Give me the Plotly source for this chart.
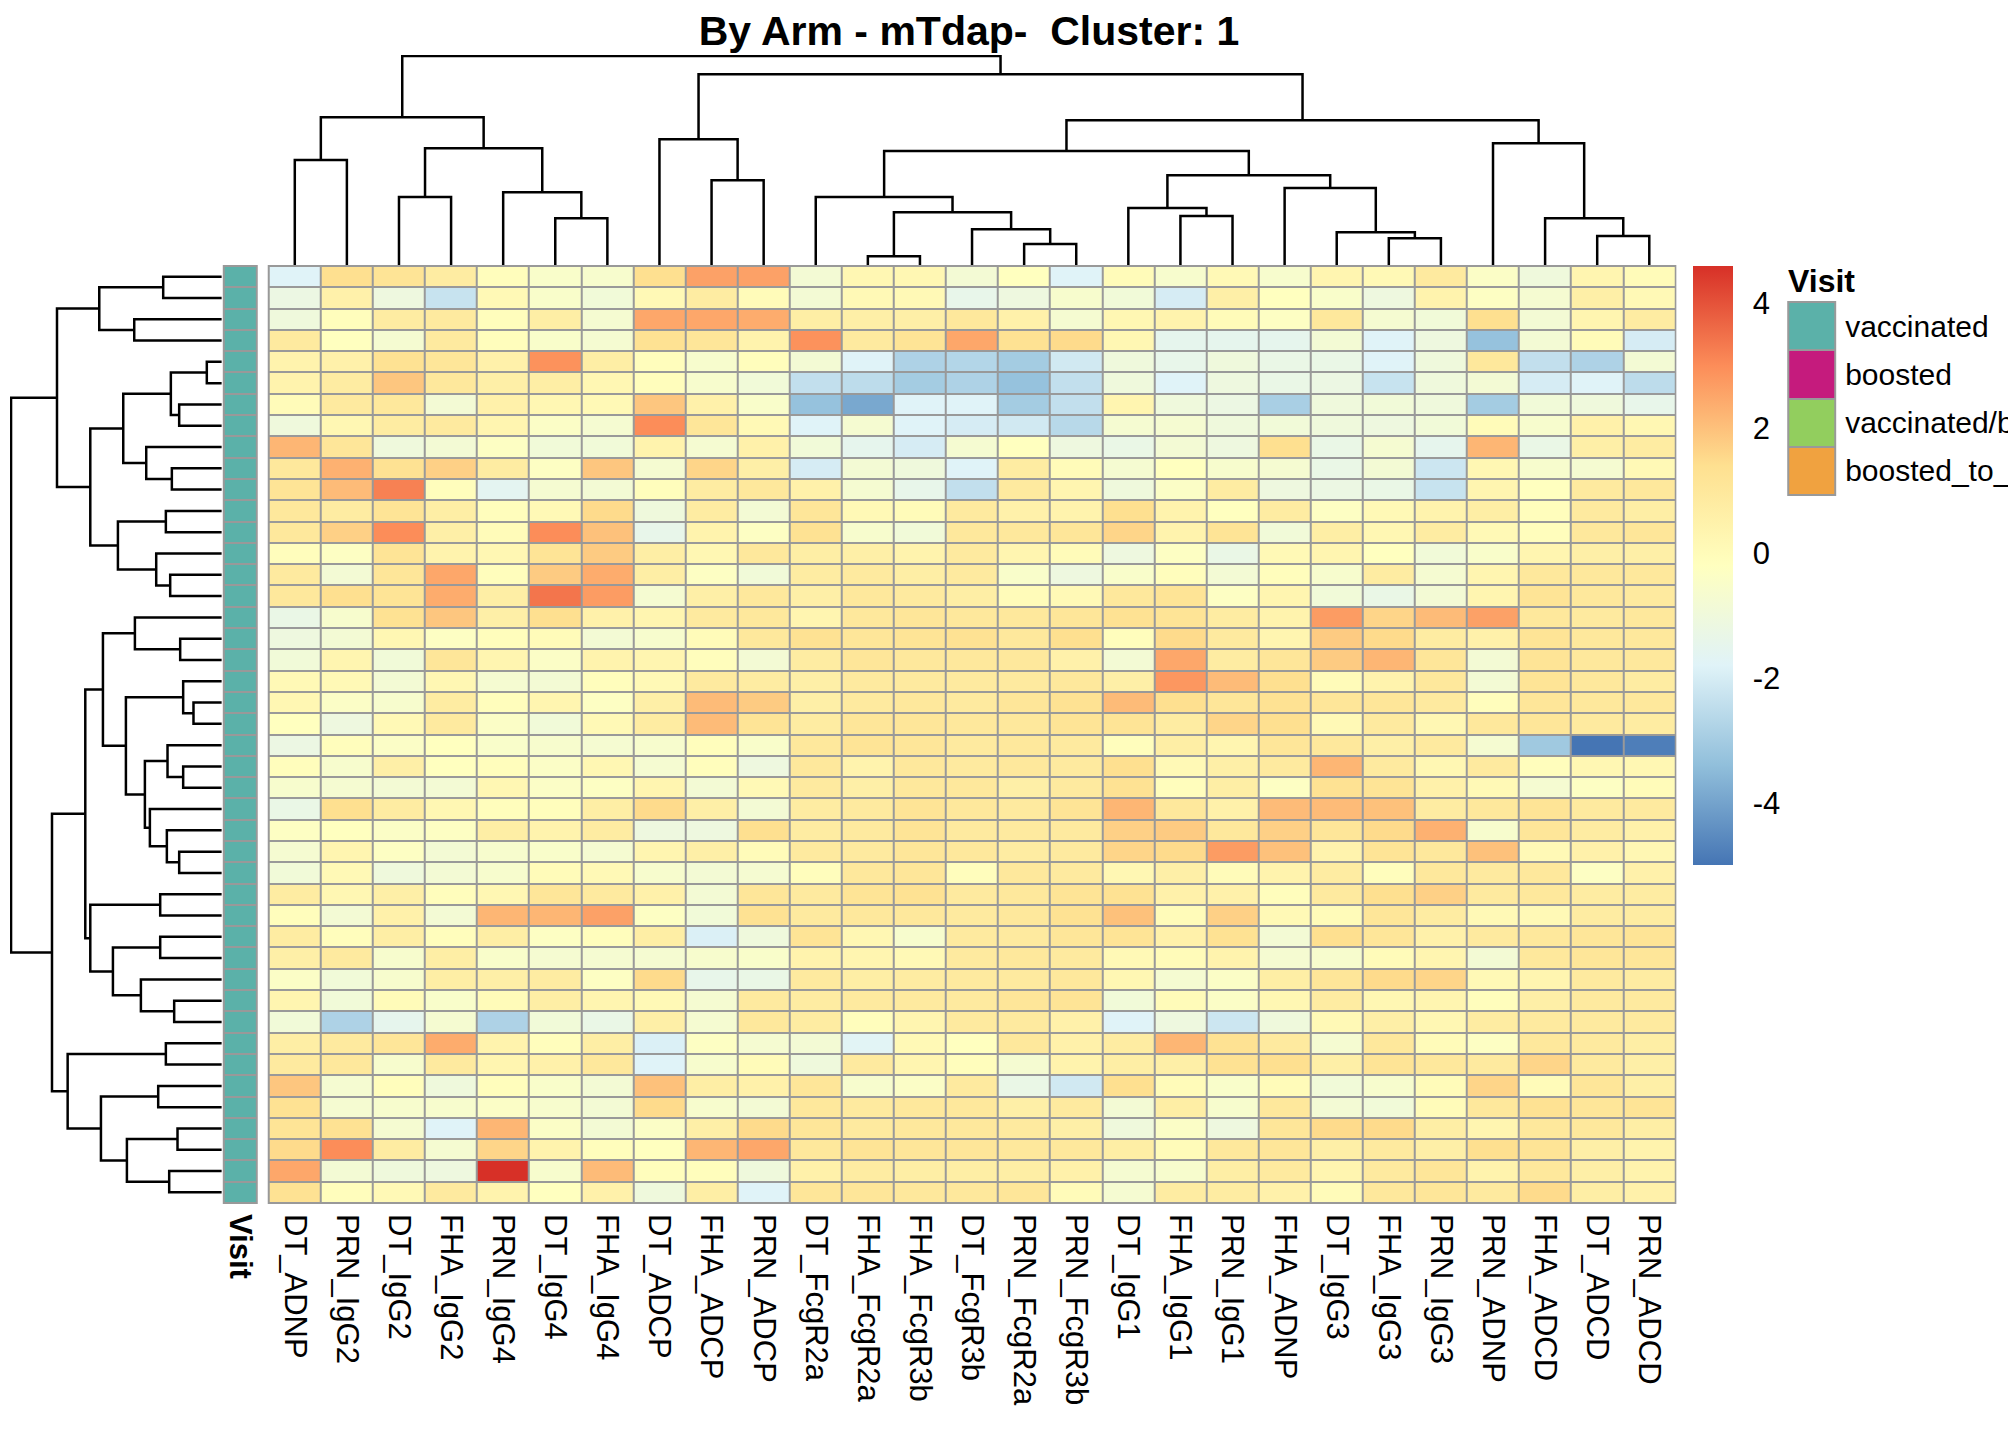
import plotly.graph_objects as go

W, H = 2016, 1440
OFF = 8  # the page body adds an 8px margin around the figure
FONT = "Liberation Sans, Arial, sans-serif"

# column order as shown under the heatmap
features = ["DT_ADNP", "PRN_IgG2", "DT_IgG2", "FHA_IgG2", "PRN_IgG4", "DT_IgG4", "FHA_IgG4",
            "DT_ADCP", "FHA_ADCP", "PRN_ADCP", "DT_FcgR2a", "FHA_FcgR2a", "FHA_FcgR3b",
            "DT_FcgR3b", "PRN_FcgR2a", "PRN_FcgR3b", "DT_IgG1", "FHA_IgG1", "PRN_IgG1",
            "FHA_ADNP", "DT_IgG3", "FHA_IgG3", "PRN_IgG3", "PRN_ADNP", "FHA_ADCD",
            "DT_ADCD", "PRN_ADCD"]

# visit annotation per row (all rows are vaccinated)
visit = ["vaccinated"] * 44
# legend labels as far as they are visible before the right edge
visit_levels = ["vaccinated", "boosted", "vaccinated/b", "boosted_to_"]
visit_colors = ["#5BB1A9", "#C51B7D", "#92CE5E", "#F0A240"]

# scaled values, one list per row (top to bottom)
values = [
    [-1.8, 1.4, 1.2, 0.8, -0.1, -0.5, -0.6, 1.4, 2.6, 2.6, -0.8, 0.2, 0.2, -0.8, -0.2, -1.8, 0.0, -0.6, 0.1, -0.6, 0.3, 0.1, 0.9, -0.4, -1.0, 0.3, 0.0],
    [-1.2, 0.5, -1.1, -2.3, 0.1, -0.5, -0.9, 0.1, 0.8, 0.0, -0.8, 0.1, 0.1, -1.4, -1.1, -0.6, -0.9, -2.0, 0.6, -0.2, -0.5, -1.1, 0.4, -0.3, -0.7, 0.6, 0.1],
    [-1.0, -0.1, 0.8, 0.9, -0.1, 0.7, -0.7, 2.5, 2.5, 2.4, 0.7, 0.6, 0.6, 1.0, 0.5, -0.7, 0.2, 0.4, 0.0, -0.3, 1.0, -0.7, -0.9, 1.4, -0.8, 0.3, 0.8],
    [0.9, -0.2, -0.7, 0.9, -0.1, -0.5, -0.7, 1.3, 1.1, 0.4, 2.9, 0.9, 1.2, 2.5, 1.3, 1.5, 0.2, -1.5, -1.5, -1.5, -0.8, -1.8, -1.1, -3.3, -0.8, 0.0, -2.0],
    [0.4, 0.5, 1.3, 1.1, 0.5, 2.9, 0.7, -0.1, -0.6, -0.1, -0.8, -1.8, -2.8, -2.7, -3.0, -2.1, -1.0, -1.4, -1.0, -1.3, -1.3, -1.8, -1.0, 1.0, -2.4, -2.8, -0.8],
    [0.4, 0.8, 1.9, 1.0, 0.6, 0.7, 0.2, -0.1, -0.6, -0.9, -2.4, -2.5, -3.0, -2.8, -3.3, -2.4, -1.0, -1.8, -1.1, -1.3, -1.2, -2.3, -1.0, -0.8, -2.0, -1.8, -2.5],
    [0.0, 0.9, 1.0, -0.8, 0.5, 0.2, 0.1, 1.9, 0.5, -0.5, -3.3, -3.9, -1.8, -1.8, -3.0, -2.4, 0.3, -1.0, -1.2, -2.9, -1.0, -0.9, -1.0, -3.0, -0.9, -1.0, -1.4],
    [-1.0, 0.2, 0.8, 0.9, 0.3, -0.4, -0.7, 3.0, 1.1, 0.1, -1.8, -0.7, -1.8, -2.0, -2.1, -2.6, -0.7, -0.7, -1.0, -0.9, -1.0, -1.1, -0.9, 0.0, -0.6, 0.5, 0.2],
    [2.2, 1.1, -1.0, -0.8, -0.3, -0.9, -0.9, 0.4, -0.7, 0.5, -0.9, -1.5, -2.0, -0.7, -0.2, -1.1, -1.3, -0.8, -1.1, 1.4, -1.3, -0.7, -1.5, 2.2, -1.3, 0.6, 0.8],
    [1.0, 2.3, 1.3, 1.7, 0.8, -0.3, 1.9, -0.7, 1.6, 0.6, -2.0, -0.8, -1.0, -1.8, 0.8, 0.0, -0.7, -0.2, -0.6, -0.7, -1.3, -0.8, -2.2, 0.2, -0.6, -0.7, 0.1],
    [1.2, 2.1, 3.2, -0.1, -1.6, -0.7, -0.8, -0.1, 0.8, 1.0, 0.5, -0.7, -1.4, -2.4, 0.9, 0.3, -1.0, -0.4, 0.8, -1.1, -1.2, -1.3, -2.3, 0.3, -0.2, 0.9, 1.0],
    [1.0, 0.8, 1.2, 0.7, -0.1, 0.1, 1.5, -1.0, 0.8, -0.8, 1.1, 0.1, 0.0, 0.9, 0.5, 0.4, 1.4, 0.4, -0.2, 0.8, -0.3, 0.1, 0.4, 0.7, -0.1, 0.9, 0.7],
    [1.0, 1.7, 3.0, 0.6, 0.0, 3.0, 2.0, -1.4, 0.4, -0.3, 1.3, -0.6, -0.9, 1.0, 1.0, 1.1, 1.6, 0.4, 1.2, -0.9, 0.7, 0.2, 0.8, 0.1, -0.1, 1.0, 1.1],
    [-0.1, -0.3, 1.2, 0.4, 0.2, 1.2, 1.8, 0.7, 0.2, 1.0, 0.7, 0.6, 0.4, 0.9, 0.3, 0.0, -1.1, -0.3, -1.3, 0.1, 0.3, -0.2, -0.9, -0.5, 0.3, 0.6, 0.6],
    [0.9, -0.8, 1.1, 2.5, -0.1, 1.8, 2.4, 0.7, -0.3, -0.9, 0.8, 0.9, 0.7, 0.9, -0.5, -1.1, -0.5, -0.1, -0.8, -0.1, -0.6, 0.8, -0.7, 0.3, 1.0, 1.0, 1.0],
    [1.0, 1.4, 1.2, 2.4, 0.7, 3.4, 2.7, -0.7, 0.6, 1.0, 0.6, 1.0, 0.9, 0.7, 0.0, 0.1, 1.0, 1.2, -0.3, 0.3, -0.9, -1.3, -0.8, 0.3, 1.2, 1.0, 0.9],
    [-1.3, -0.6, 1.3, 1.9, 0.6, 1.4, 0.5, 0.3, 0.9, 1.0, 0.3, 1.0, 1.1, 1.0, 1.0, 1.1, 1.3, 1.2, 0.8, 0.4, 2.7, 1.6, 2.1, 2.6, 1.0, 0.9, 1.0],
    [-1.1, -0.8, 0.2, -0.3, -0.1, 0.0, -0.8, -0.6, 0.0, 1.0, 1.3, 1.1, 1.2, 1.3, 1.0, 1.4, -0.1, 1.5, 0.9, 0.3, 1.8, 1.5, 0.8, 0.5, 1.2, 1.0, 1.0],
    [-0.9, 0.3, -0.9, 1.1, 0.3, -0.4, 0.4, 0.3, -0.1, -0.8, 0.8, 1.1, 1.0, 1.0, 1.0, 0.5, -0.8, 2.5, 0.8, 1.1, 1.8, 2.2, 1.1, -0.8, 1.2, 1.0, 1.0],
    [0.1, 0.1, -0.8, 0.2, -0.7, -0.8, -0.1, 0.1, 0.9, 0.8, 0.6, 0.9, 0.9, 0.9, 0.9, 1.0, 0.6, 2.8, 2.1, 1.4, 0.0, 0.4, 1.0, -0.8, 1.2, 1.0, 0.8],
    [0.2, -0.4, -0.6, 0.8, -0.1, 0.3, -0.3, 0.6, 2.1, 1.8, 0.6, 0.9, 1.0, 0.9, 1.1, 1.3, 2.1, 1.4, 1.1, 1.3, 1.1, 1.1, 0.9, -0.1, 1.1, 1.0, 1.0],
    [-0.2, -1.1, 0.1, 0.9, -0.4, -0.9, 0.1, 0.8, 2.1, 1.2, 0.8, 1.1, 1.1, 1.0, 1.0, 1.2, 1.2, 0.8, 1.6, 1.4, 0.1, 0.9, 0.2, 1.0, 1.1, 0.9, 0.8],
    [-1.2, -0.1, -0.4, -0.2, -0.5, -0.6, -0.7, -0.6, -0.1, -0.5, 1.0, 1.2, 1.1, 0.9, 1.0, 0.9, -0.1, 0.7, 0.3, 1.1, 1.0, 0.6, 0.9, -0.7, -3.1, -4.99, -4.8],
    [-0.1, -0.6, 0.6, -0.2, -0.1, -0.4, 0.2, -0.7, -0.1, -1.1, 1.0, 0.4, 1.0, 0.9, 1.0, 0.9, 1.4, 0.1, 0.6, 0.9, 2.2, 0.9, 0.2, 0.9, -0.1, 0.2, 0.2],
    [-0.6, -0.7, -0.8, -0.8, 0.2, -0.4, -0.3, 0.3, -0.8, 0.1, 0.9, 0.6, 1.0, 1.0, 0.6, 0.9, 1.3, -0.1, 0.7, -0.3, 1.3, 1.2, 0.5, 0.1, -0.7, -0.3, 0.0],
    [-1.3, 1.4, 0.8, 0.2, -0.1, -0.1, 0.7, 1.5, 0.6, -0.8, 0.8, 0.9, 1.2, 1.0, 0.9, 1.2, 2.2, 1.0, 0.5, 2.1, 2.1, 2.0, 0.8, 1.0, 1.2, 0.9, 0.9],
    [-0.3, -0.2, -0.4, -0.3, 0.7, 0.4, 0.8, -1.1, -1.1, 1.4, 0.8, 0.9, 1.2, 0.9, 0.9, 0.9, 1.7, 1.8, 1.0, 1.7, 1.1, 1.5, 2.3, -0.6, 1.1, 0.8, 0.5],
    [-0.7, 0.3, -0.3, -0.8, -0.6, -0.5, -0.7, 0.3, 0.6, 0.0, 0.9, 0.9, 1.1, 1.0, 0.8, 0.9, 1.6, 1.5, 2.7, 2.0, 0.4, 1.2, 1.0, 2.0, 0.1, 0.5, 0.2],
    [-0.9, 0.1, -1.0, -0.8, -0.6, 0.0, 0.1, -0.6, -0.8, -0.7, -0.1, 1.0, 1.1, -0.1, 1.0, 0.9, 0.2, 0.6, 0.0, 0.4, 0.8, -0.1, 1.0, 0.9, 1.0, -0.3, 0.5],
    [0.8, 0.2, 0.6, -0.1, 0.2, 1.1, 0.9, 0.5, -0.8, 1.1, 0.9, 1.2, 1.3, 0.9, 1.0, 1.2, 1.3, 0.5, 0.5, -0.1, 0.9, 1.4, 1.7, 0.9, 1.0, 0.8, 0.8],
    [-0.1, -0.8, 0.5, -0.8, 2.2, 2.2, 2.6, -0.3, -0.9, 1.3, 0.9, 1.0, 1.0, 0.9, 1.0, 1.3, 2.0, 0.0, 1.7, 0.1, 0.0, 1.1, 0.8, 0.1, 0.1, 0.8, 0.8],
    [0.8, -0.1, 0.7, -0.1, 0.7, -0.3, -0.1, 0.7, -1.9, -1.0, 1.2, 0.2, -0.6, 0.9, 0.9, 1.1, 1.2, 0.5, 1.3, -0.8, 1.4, 1.1, 0.5, 0.9, 1.0, 1.1, 1.2],
    [0.6, 0.9, -0.6, 0.7, -0.5, -0.7, -0.7, -0.7, -0.6, -0.5, 0.4, 0.3, 0.1, 0.9, 1.0, 0.9, 0.1, 0.0, 0.4, -0.7, -0.6, 0.0, 0.3, -0.8, 1.0, 1.1, 1.1],
    [-0.4, -0.9, -0.6, 0.7, 0.6, 0.8, -0.3, 1.5, -1.4, -1.3, 0.9, 0.7, 0.8, 0.9, 0.9, 1.0, 0.2, -0.7, -0.4, 0.7, 1.1, 1.5, 1.6, 0.1, 0.3, 0.9, 0.8],
    [0.3, -0.9, 0.0, -0.5, 0.0, 0.7, 0.3, 0.1, -0.7, 0.9, 0.8, 0.9, 0.9, 0.9, 1.1, 1.2, -0.9, 0.0, -0.4, 0.2, 0.8, 0.2, 0.3, -0.1, 0.6, 0.9, 0.9],
    [-0.9, -2.8, -1.5, -0.7, -2.8, -0.9, -1.3, 0.6, -0.7, 1.0, 0.8, -0.1, 0.3, 0.9, 0.9, 0.5, -1.8, -1.1, -2.2, -1.0, 0.1, 0.6, 0.2, 0.8, 0.9, 0.9, 0.9],
    [0.7, 0.9, 1.1, 2.4, 0.4, -0.1, 0.7, -1.9, -0.3, -0.7, -0.8, -1.7, 0.1, -0.2, 1.0, 0.5, 0.8, 2.2, 1.3, 0.9, -0.7, 1.0, 0.0, -0.3, 1.0, 0.9, 0.7],
    [0.9, 1.0, -0.6, 0.9, 0.3, 0.5, 1.0, -1.8, -0.6, 0.0, -1.0, 0.9, 0.3, -0.1, -0.7, 0.4, 0.7, 0.6, 1.3, 1.4, 0.6, 1.2, 1.0, 0.9, 1.6, 0.9, 0.6],
    [1.9, -0.7, -0.1, -1.0, -0.1, -0.5, -0.8, 2.0, 0.7, 0.5, 1.1, -0.6, -0.4, 0.9, -1.3, -2.1, 1.4, 0.0, -0.5, 0.0, -0.9, -0.6, 0.0, 1.6, 0.0, 1.1, 0.6],
    [1.3, -0.7, -0.6, -0.6, -0.4, -0.6, -0.8, 1.5, -0.6, -0.8, 1.0, 0.9, 1.0, 1.0, 0.6, 0.9, -0.8, 0.7, -0.6, 1.0, -0.8, -0.9, 0.0, 1.0, 1.3, 1.1, 1.2],
    [1.2, 1.3, -0.7, -1.8, 2.2, -0.4, -0.8, -0.4, 0.6, 1.5, 1.1, 0.9, 1.0, 1.0, 0.9, 0.6, -1.0, -0.4, -1.1, 1.1, 1.5, 1.5, 0.7, 0.3, 1.0, 1.0, 0.7],
    [1.5, 3.0, 0.8, -0.7, 1.6, 0.4, -0.1, -0.2, 2.2, 2.5, 1.0, 1.2, 1.1, 1.1, 1.0, 1.0, 0.7, 0.0, 1.0, 1.1, 0.6, 0.9, 0.6, 1.4, 1.2, 0.6, 0.4],
    [2.5, -0.8, -1.0, -1.1, 4.59, -0.6, 2.1, -0.1, -0.1, -1.0, 0.5, 0.8, 0.7, 0.7, 0.7, 0.5, -0.7, -0.6, 0.7, 0.9, 0.3, 0.9, 1.1, 0.4, 1.0, 0.6, 0.4],
    [1.3, -0.1, 0.1, 0.9, 0.4, -0.2, 0.5, -1.0, 0.7, -1.8, 1.1, 1.1, 1.0, 1.0, 1.1, 0.0, -0.7, 0.8, 0.8, 0.5, 0.0, 1.0, 1.1, 0.9, 1.5, 0.7, 0.5],
]

# hclust-style merges (left id, right id, height); ids >= n refer to earlier merges
row_merges = [
    (0, 1, 176), (2, 3, 263), (44, 45, 368), (4, 5, 45), (6, 7, 128), (47, 48, 153),
    (9, 10, 150), (8, 50, 227), (49, 51, 296), (11, 12, 168), (14, 15, 155), (13, 54, 197),
    (53, 55, 312), (52, 56, 395), (46, 57, 495), (17, 18, 125), (16, 59, 261), (20, 21, 85),
    (19, 61, 116), (23, 24, 116), (22, 63, 163), (27, 28, 128), (26, 65, 165), (25, 66, 216),
    (64, 67, 231), (62, 68, 288), (60, 69, 357), (29, 30, 185), (31, 32, 185), (34, 35, 143),
    (33, 73, 243), (72, 74, 327), (71, 75, 395), (70, 76, 410), (36, 37, 168), (38, 39, 191),
    (40, 41, 133), (42, 43, 158), (80, 81, 285), (79, 82, 363), (78, 83, 463), (77, 84, 510),
    (58, 85, 633),
]
col_merges = [
    (0, 1, 315), (2, 3, 204), (5, 6, 140), (4, 29, 218), (28, 30, 350), (27, 31, 443),
    (8, 9, 254), (7, 33, 377), (11, 12, 26), (14, 15, 63), (13, 36, 107), (35, 37, 158),
    (10, 38, 204), (17, 18, 147), (16, 40, 171), (21, 22, 80), (20, 42, 98), (19, 43, 231),
    (41, 44, 269), (39, 45, 342), (25, 26, 87), (24, 47, 140), (23, 48, 365), (46, 49, 434),
    (34, 50, 572), (32, 51, 627),
]

heat_colors = ["#4575B4", "#91BFDB", "#E0F3F8", "#FFFFBF", "#FEE090", "#FC8D59", "#D73027"]


def fx(p):
    return (p - OFF) / W


def fy(p):
    return 1 - (p - OFF) / H


def dendro_lines(n, merges):
    # U-shaped links, child position = leaf index or mean of its children
    pos = list(range(n))
    hgt = [0] * n
    xs, ys = [], []
    for a, b, h in merges:
        xs += [pos[a], pos[a], pos[b], pos[b], None]
        ys += [hgt[a], h, h, hgt[b], None]
        pos.append((pos[a] + pos[b]) / 2)
        hgt.append(h)
    return xs, ys


n_rows, n_cols = len(values), len(features)
zmin = min(min(r) for r in values)
zmax = max(max(r) for r in values)
scale = [[i / (len(heat_colors) - 1), c] for i, c in enumerate(heat_colors)]
visit_scale = [[i / (len(visit_colors) - 1), c] for i, c in enumerate(visit_colors)]

fig = go.Figure()

fig.add_trace(go.Heatmap(
    z=values, x=list(range(n_cols)), y=list(range(n_rows)),
    zmin=zmin, zmax=zmax, colorscale=scale, xgap=2, ygap=2,
    hoverinfo="skip",
    colorbar=dict(
        x=fx(1694), xanchor="left", xpad=0, y=fy(266), yanchor="top", ypad=0,
        len=(865 - 266) / H, lenmode="fraction", thickness=40, thicknessmode="pixels",
        outlinewidth=0, tickvals=[-4, -2, 0, 2, 4], ticktext=["-4", "-2", "0", "2", "4"],
        ticks="outside", ticklen=14, tickcolor="rgba(0,0,0,0)",
        tickfont=dict(size=31, color="black", family=FONT),
    ),
    xaxis="x", yaxis="y",
))

fig.add_trace(go.Heatmap(
    z=[[visit_levels.index(v)] for v in visit], x=[0], y=list(range(n_rows)),
    zmin=0, zmax=len(visit_levels) - 1, colorscale=visit_scale, showscale=False,
    xgap=2, ygap=2, hoverinfo="skip", xaxis="x2", yaxis="y2",
))

rx, ry = dendro_lines(n_rows, row_merges)
fig.add_trace(go.Scatter(x=ry, y=rx, mode="lines", line=dict(color="black", width=2.5),
                         hoverinfo="skip", xaxis="x3", yaxis="y3"))

cx, cy = dendro_lines(n_cols, col_merges)
fig.add_trace(go.Scatter(x=cx, y=cy, mode="lines", line=dict(color="black", width=2.5),
                         hoverinfo="skip", xaxis="x4", yaxis="y4"))

fig.add_trace(go.Heatmap(
    z=[[i] for i in range(len(visit_levels))], x=[0], y=list(range(len(visit_levels))),
    zmin=0, zmax=len(visit_levels) - 1, colorscale=visit_scale, showscale=False,
    xgap=2, ygap=2, hoverinfo="skip", xaxis="x5", yaxis="y5",
))

row_root = row_merges[-1][2]
col_root = col_merges[-1][2]
hidden = dict(showgrid=False, zeroline=False, showticklabels=False, ticks="", showline=False)
heat_dom_y = [fy(1203), fy(266)]
heat_dom_x = [fx(268), fx(1676)]

fig.update_layout(
    width=W, height=H,
    margin=dict(l=0, r=0, t=0, b=0),
    paper_bgcolor="white", plot_bgcolor="white",
    font=dict(family=FONT, color="black"),
    showlegend=False,
    title=dict(text="<b>By Arm - mTdap- \u00a0Cluster: 1</b>", x=fx(969), xanchor="center",
               y=fy(31), yanchor="middle", font=dict(size=41, color="black", family=FONT)),
    xaxis=dict(domain=heat_dom_x, range=[-0.5, n_cols - 0.5], anchor="y",
               tickvals=list(range(n_cols)), ticktext=features, tickangle=90,
               tickfont=dict(size=31, color="black"), ticks="", ticklabelstandoff=10,
               showgrid=False, zeroline=False),
    yaxis=dict(domain=heat_dom_y, range=[n_rows - 0.5, -0.5], anchor="x", **hidden),
    xaxis2=dict(domain=[fx(223), fx(256)], range=[-0.5, 0.5], anchor="y2",
                tickvals=[0], ticktext=["<b>Visit</b>"], tickangle=90,
                tickfont=dict(size=31, color="black"), ticks="", ticklabelstandoff=10,
                showgrid=False, zeroline=False),
    yaxis2=dict(domain=heat_dom_y, range=[n_rows - 0.5, -0.5], anchor="x2", **hidden),
    xaxis3=dict(domain=[fx(9), fx(221)], range=[row_root * 1.005, 0], anchor="y3", **hidden),
    yaxis3=dict(domain=heat_dom_y, range=[n_rows - 0.5, -0.5], anchor="x3", **hidden),
    xaxis4=dict(domain=heat_dom_x, range=[-0.5, n_cols - 0.5], anchor="y4", **hidden),
    yaxis4=dict(domain=[fy(265), fy(55)], range=[0, col_root * 1.005], anchor="x4", **hidden),
    xaxis5=dict(domain=[fx(1789), fx(1836)], range=[-0.5, 0.5], anchor="y5", **hidden),
    yaxis5=dict(domain=[fy(495), fy(302)], range=[len(visit_levels) - 0.5, -0.5], anchor="x5",
                side="right", tickvals=list(range(len(visit_levels))), ticktext=visit_levels,
                tickfont=dict(size=30, color="black"), ticks="", ticklabelstandoff=9,
                showgrid=False, zeroline=False),
)

# grey cell borders behind the tiled heatmaps
for ax in ["", "2", "5"]:
    fig.add_shape(type="rect", xref=f"x{ax} domain", yref=f"y{ax} domain",
                  x0=0, x1=1, y0=0, y1=1, fillcolor="#999999",
                  line=dict(color="#999999", width=2), layer="below")

fig.add_annotation(text="<b>Visit</b>", x=fx(1787), y=fy(281), xref="paper", yref="paper",
                   xanchor="left", yanchor="middle", showarrow=False,
                   font=dict(size=32, color="black", family=FONT))

fig.write_html("out.html")
